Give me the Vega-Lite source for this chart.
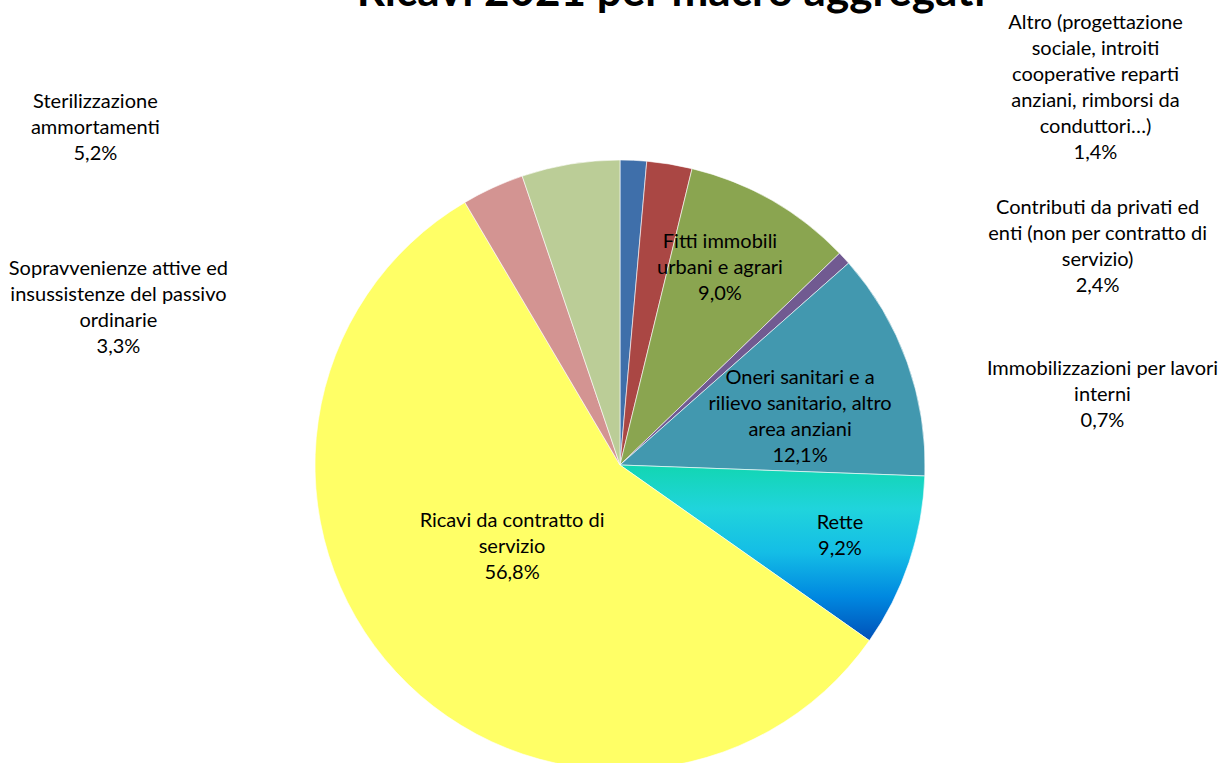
{
  "$schema": "https://vega.github.io/schema/vega-lite/v6.json",
  "width": 1240,
  "height": 930,
  "autosize": {"type": "none"},
  "padding": 0,
  "background": "white",
  "view": {"stroke": null},
  "config": {"text": {"font": "Lato", "fontSize": 20, "lineHeight": 26, "lineBreak": "\n", "color": "#000000", "align": "center", "baseline": "middle"}},
  "title": {"text": "Ricavi 2021 per macro aggregati", "font": "Lato", "fontSize": 44, "fontWeight": "bold", "color": "#000000", "frame": "group", "anchor": "middle", "baseline": "alphabetic", "offset": -50, "dx": 51},
  "data": {"values": [
    {"i": 1, "cat": "Altro", "value": 1.4, "label": "Altro (progettazione\nsociale, introiti\ncooperative reparti\nanziani, rimborsi da\nconduttori…)\n1,4%"},
    {"i": 2, "cat": "Contributi", "value": 2.4, "label": "Contributi da privati ed\nenti (non per contratto di\nservizio)\n2,4%"},
    {"i": 3, "cat": "Fitti", "value": 9.0, "label": "Fitti immobili\nurbani e agrari\n9,0%"},
    {"i": 4, "cat": "Immobilizzazioni", "value": 0.7, "label": "Immobilizzazioni per lavori\ninterni\n0,7%"},
    {"i": 5, "cat": "Oneri", "value": 12.1, "label": "Oneri sanitari e a\nrilievo sanitario, altro\narea anziani\n12,1%"},
    {"i": 6, "cat": "Rette", "value": 9.2, "label": "Rette\n9,2%"},
    {"i": 7, "cat": "Ricavi", "value": 56.8, "label": "Ricavi da contratto di\nservizio\n56,8%"},
    {"i": 8, "cat": "Sopravvenienze", "value": 3.3, "label": "Sopravvenienze attive ed\ninsussistenze del passivo\nordinarie\n3,3%"},
    {"i": 9, "cat": "Sterilizzazione", "value": 5.2, "label": "Sterilizzazione\nammortamenti\n5,2%"}
  ]},
  "encoding": {
    "theta": {"field": "value", "type": "quantitative", "stack": true},
    "order": {"field": "i", "type": "quantitative", "sort": "ascending"},
    "detail": {"field": "cat", "type": "nominal"}
  },
  "layer": [
    {
      "mark": {"type": "arc", "outerRadius": 305, "stroke": "white", "strokeWidth": 0.6},
      "encoding": {
        "color": {
          "condition": {"test": "datum.cat === 'Rette'", "value": {"gradient": "linear", "x1": 0, "y1": 0, "x2": 0, "y2": 1, "stops": [{"offset": 0, "color": "#12D6B2"}, {"offset": 0.25, "color": "#20D4DC"}, {"offset": 0.5, "color": "#14BDE6"}, {"offset": 0.75, "color": "#0088E0"}, {"offset": 1, "color": "#0050B8"}]}},
          "field": "cat", "type": "nominal", "legend": null,
          "scale": {"domain": ["Altro", "Contributi", "Fitti", "Immobilizzazioni", "Oneri", "Rette", "Ricavi", "Sopravvenienze", "Sterilizzazione"],
                    "range": ["#3F6FAA", "#AA4744", "#8AA550", "#715A91", "#4298AF", "#20D4DC", "#FFFF66", "#D39492", "#BBCD97"]}
        }
      }
    },
    {"mark": {"type": "text", "radius": 221, "dx": -10, "dy": -31}, "encoding": {"text": {"condition": {"test": "datum.cat === 'Fitti'", "field": "label"}, "value": ""}}},
    {"mark": {"type": "text", "radius": 187, "dx": 4, "dy": -24}, "encoding": {"text": {"condition": {"test": "datum.cat === 'Oneri'", "field": "label"}, "value": ""}}},
    {"mark": {"type": "text", "radius": 231, "dx": 1, "dy": -16}, "encoding": {"text": {"condition": {"test": "datum.cat === 'Rette'", "field": "label"}, "value": ""}}},
    {"mark": {"type": "text", "radius": 136, "dx": -8, "dy": -36}, "encoding": {"text": {"condition": {"test": "datum.cat === 'Ricavi'", "field": "label"}, "value": ""}}},
    {"mark": {"type": "text", "radius": 330, "dx": 461, "dy": -112}, "encoding": {"text": {"condition": {"test": "datum.cat === 'Altro'", "field": "label"}, "value": ""}}},
    {"mark": {"type": "text", "radius": 330, "dx": 424, "dy": 69}, "encoding": {"text": {"condition": {"test": "datum.cat === 'Contributi'", "field": "label"}, "value": ""}}},
    {"mark": {"type": "text", "radius": 330, "dx": 240, "dy": 128}, "encoding": {"text": {"condition": {"test": "datum.cat === 'Immobilizzazioni'", "field": "label"}, "value": ""}}},
    {"mark": {"type": "text", "radius": 330, "dx": -471, "dy": -37}, "encoding": {"text": {"condition": {"test": "datum.cat === 'Sterilizzazione'", "field": "label"}, "value": ""}}},
    {"mark": {"type": "text", "radius": 330, "dx": -364, "dy": 104}, "encoding": {"text": {"condition": {"test": "datum.cat === 'Sopravvenienze'", "field": "label"}, "value": ""}}}
  ]
}
